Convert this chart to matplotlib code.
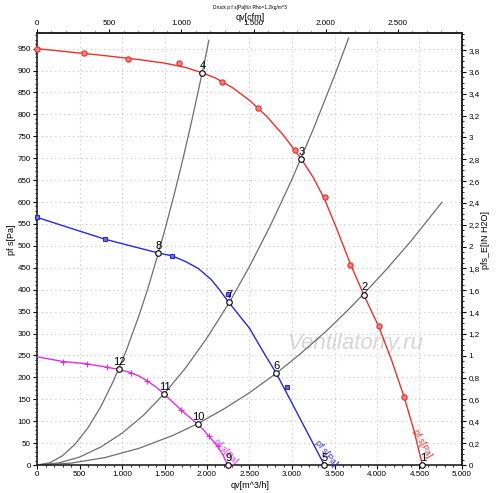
import matplotlib
matplotlib.use("Agg")
import matplotlib.pyplot as plt
from matplotlib.ticker import MultipleLocator, FuncFormatter

plt.rcParams['font.family'] = ['Liberation Sans', 'DejaVu Sans']

# ---------------- data ----------------
# fan curves: flow q [m^3/h], static pressure p [Pa]
red_q = [0, 400, 800, 1200, 1500, 1750, 1940, 2100, 2300, 2500, 2700, 2900, 3107, 3250, 3384,
         3530, 3682, 3842, 4018, 4170, 4319, 4430, 4535]
red_p = [950, 942, 934, 925, 917, 907, 895, 883, 861, 832, 796, 752, 699, 656, 606,
         537, 461, 389, 317, 240, 155, 82, 0]
red_mq = [0, 555, 1068, 1667, 2179, 2598, 3040, 3384, 3682, 4018, 4319]
red_mp = [950, 939, 927, 917, 875, 814, 718, 612, 456, 317, 155]

blue_q = [0, 400, 802, 1100, 1424, 1593, 1750, 1900, 2050, 2150, 2257, 2380, 2500, 2650, 2813, 3100, 3380]
blue_p = [565, 540, 515, 500, 484, 477, 464, 448, 423, 399, 371, 341, 312, 262, 210, 104, 0]
blue_mq = [0, 802, 1593, 2246, 2938]
blue_mp = [565, 515, 477, 390, 177]

mag_q = [0, 309, 583, 825, 962, 1100, 1200, 1295, 1400, 1499, 1600, 1698, 1800, 1893, 1960, 2019,
         2080, 2130, 2190, 2242]
mag_p = [247, 236, 231, 223, 218, 211, 203, 192, 178, 161, 143, 125, 108, 93, 80, 66,
         53, 41, 22, 0]
mag_mq = [309, 583, 825, 1100, 1295, 1698, 2019, 2130]
mag_mp = [236, 231, 223, 211, 192, 125, 66, 43]

# system curves (gray)
sysA_q = [0, 150, 300, 450, 600, 750, 900, 1050, 1200, 1300, 1424, 1520, 1620, 1720, 1820, 1900, 1960, 2022]
sysA_p = [0, 5, 21, 48, 85, 133, 192, 261, 341, 400, 481, 548, 622, 701, 785, 856, 910, 969]
sysB_q = [0, 250, 500, 750, 1000, 1250, 1499, 1750, 2000, 2257, 2500, 2750, 3000, 3250, 3500, 3666]
sysB_p = [0, 4.5, 18, 41, 72.5, 113, 163, 222, 290, 369, 453, 548, 652, 766, 888, 974]
sysC_q = [0, 400, 800, 1200, 1600, 1893, 2200, 2500, 2813, 3100, 3400, 3650, 3842, 4100, 4400, 4762]
sysC_p = [0, 4.2, 17, 38, 67.6, 94.6, 128, 165, 209, 254, 305, 352, 390, 444, 511, 599]

# operating points
op_labels = ["1", "2", "3", "4", "5", "6", "7", "8", "9", "10", "11", "12"]
op_q = [4535, 3842, 3107, 1940, 3380, 2813, 2257, 1424, 2242, 1893, 1499, 962]
op_p = [0, 389, 699, 895, 0, 210, 371, 484, 0, 93, 161, 218]

x_ticks = [0, 500, 1000, 1500, 2000, 2500, 3000, 3500, 4000, 4500, 5000]
y_ticks = list(range(0, 1000, 50))
cfm_ticks = [0, 500, 1000, 1500, 2000, 2500]
inh2o_ticks = [0, 0.2, 0.4, 0.6, 0.8, 1, 1.2, 1.4, 1.6, 1.8, 2, 2.2, 2.4, 2.6, 2.8, 3, 3.2, 3.4, 3.6, 3.8]

RED = "#e8322c"
BLUE = "#2a2ad0"
MAG = "#e030e0"
GRAY = "#6e6e6e"
TICK_FS = 5.8
LAB_FS = 6.5

# ---------------- figure ----------------
fig = plt.figure(figsize=(5.0, 4.93), dpi=100)
ax = fig.add_axes([37 / 500, 28 / 493, 425 / 500, 431.7 / 493])
ax.set_xlim(0, 5000)
ax.set_ylim(0, 985)


def fmt_thousands(v, pos=None):
    v = int(round(v))
    return f"{v:,}".replace(",", ".")


def fmt_dec(v, pos=None):
    s = f"{v:.1f}"
    if s.endswith(".0"):
        s = s[:-2]
    return s.replace(".", ",")


ax.set_xticks(x_ticks)
ax.set_yticks(y_ticks)
ax.xaxis.set_major_formatter(FuncFormatter(fmt_thousands))
ax.yaxis.set_major_formatter(FuncFormatter(fmt_thousands))
ax.xaxis.set_minor_locator(MultipleLocator(100))
ax.yaxis.set_minor_locator(MultipleLocator(10))
ax.grid(True, which="major", color="#c4c4c4", linestyle=(0, (1, 3)), linewidth=0.8)
ax.tick_params(which="major", direction="out", length=3, width=0.8, labelsize=TICK_FS, pad=1.5)
ax.tick_params(which="minor", direction="out", length=1.5, width=0.6)
for s in ax.spines.values():
    s.set_linewidth(1.2)
    s.set_color("#222222")

# secondary axes
CFM = 1.699
INH2O = 249.09
top = ax.secondary_xaxis("top", functions=(lambda q: q / CFM, lambda c: c * CFM))
top.set_xticks(cfm_ticks)
top.xaxis.set_major_formatter(FuncFormatter(fmt_thousands))
top.xaxis.set_minor_locator(MultipleLocator(100))
top.tick_params(which="major", direction="out", length=3, width=0.8, labelsize=TICK_FS, pad=1.5)
top.tick_params(which="minor", direction="out", length=1.5, width=0.6)

right = ax.secondary_yaxis("right", functions=(lambda p: p / INH2O, lambda h: h * INH2O))
right.set_yticks(inh2o_ticks)
right.yaxis.set_major_formatter(FuncFormatter(fmt_dec))
right.yaxis.set_minor_locator(MultipleLocator(0.05))
right.tick_params(which="major", direction="out", length=3, width=0.8, labelsize=TICK_FS, pad=1.5)
right.tick_params(which="minor", direction="out", length=1.5, width=0.6)
for sa in (top, right):
    for s in sa.spines.values():
        s.set_linewidth(1.2)
        s.set_color("#222222")

# system curves
for qq, pp in ((sysA_q, sysA_p), (sysB_q, sysB_p), (sysC_q, sysC_p)):
    ax.plot(qq, pp, color=GRAY, lw=0.9, zorder=2)

# fan curves
ax.plot(red_q, red_p, color=RED, lw=1.0, zorder=3)
ax.plot(red_mq, red_mp, "o", ms=3.8, mfc="#f08080", mec=RED, mew=0.8, zorder=4, clip_on=False)
ax.plot(blue_q, blue_p, color=BLUE, lw=1.0, zorder=3)
ax.plot(blue_mq, blue_mp, "s", ms=3.5, mfc="#7070f0", mec=BLUE, mew=0.8, zorder=4, clip_on=False)
ax.plot(mag_q, mag_p, color=MAG, lw=1.0, zorder=3)
ax.plot(mag_mq, mag_mp, "+", ms=4, color=MAG, mew=0.9, zorder=4)

# operating points
ax.plot(op_q, op_p, "o", ms=4, mfc="white", mec="black", mew=0.8, zorder=5, clip_on=False)
for lab, q, p in zip(op_labels, op_q, op_p):
    ax.annotate(lab, (q, p), xytext=(0.5, 1.5), textcoords="offset points",
                ha="center", va="bottom", fontsize=8, color="black", zorder=6)

# curve labels
ax.text(4530, 50, "pf s[Pa]", color=RED, fontsize=6.5, rotation=-62, ha="center", va="center")
ax.text(3404, 27, "pf s[Pa]", color=BLUE, fontsize=6.5, rotation=-52, ha="center", va="center")
ax.text(2218, 30, "pf s[Pa]", color=MAG, fontsize=6.5, rotation=-48, ha="center", va="center")

# watermark
ax.text(3744, 278, "Ventilatorry.ru", color="#d6d6d6", fontsize=16, style="italic",
        ha="center", va="center", zorder=1)

# texts
fig.text(0.5, 1 - 8 / 493, "Druck p f s[Pa]für Rho=1,2kg/m^3", fontsize=3.5, ha="center", va="center")
fig.text(0.5, 1 - 17 / 493, "qv[cfm]", fontsize=LAB_FS, ha="center", va="center")
fig.text(0.5, 8 / 493, "qv[m^3/h]", fontsize=LAB_FS, ha="center", va="center")
fig.text(12 / 500, 1 - 240 / 493, "pf s[Pa]", fontsize=LAB_FS, rotation=90, ha="center", va="center")
fig.text(485 / 500, 1 - 240 / 493, "pfs_E[IN H2O]", fontsize=LAB_FS, rotation=90, ha="center", va="center")

fig.savefig("out.png", dpi=100)
